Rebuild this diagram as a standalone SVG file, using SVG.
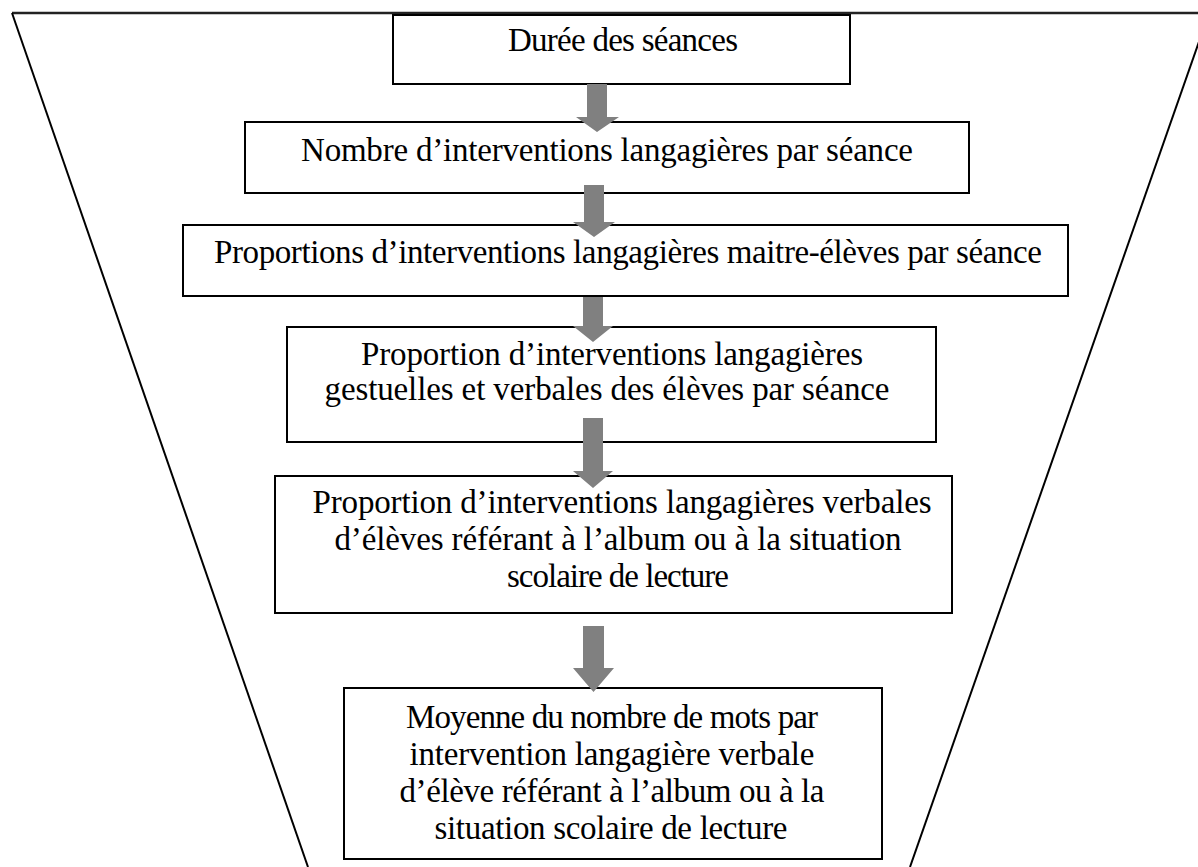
<svg xmlns="http://www.w3.org/2000/svg" width="1198" height="867" viewBox="0 0 1198 867">
<style>
.box{fill:#fff;stroke:#000;stroke-width:2}
.t{font-family:"Liberation Serif","Times New Roman",serif;font-size:33px;fill:#000;text-anchor:middle}
.arr{fill:#808080;stroke:none}
.fun{fill:none;stroke:#000;stroke-width:2}
</style>
<rect width="1198" height="867" fill="#fff"/>
<g id="funnel">
<line class="fun" x1="12" y1="13" x2="1198" y2="13" style="stroke:#222;stroke-width:2.5"/>
<line class="fun" x1="12" y1="13" x2="308" y2="867"/>
<line class="fun" x1="1209" y1="13" x2="910" y2="867"/>
</g>
<g id="n1">
<rect class="box" x="393" y="15" width="457" height="69"/>
<text class="t" x="623" y="51" textLength="230">Durée des séances</text>
</g>
<g id="n2">
<rect class="box" x="245" y="122" width="724" height="71"/>
<text class="t" x="607" y="161" textLength="612">Nombre d’interventions langagières par séance</text>
</g>
<g id="n3">
<rect class="box" x="183" y="225" width="885" height="71"/>
<text class="t" x="628" y="263" textLength="828">Proportions d’interventions langagières maitre-élèves par séance</text>
</g>
<g id="n4">
<rect class="box" x="287" y="327" width="649" height="115"/>
<text class="t" x="612" y="365" textLength="502">Proportion d’interventions langagières</text>
<text class="t" x="607" y="400" textLength="565">gestuelles et verbales des élèves par séance</text>
</g>
<g id="n5">
<rect class="box" x="275" y="476" width="677" height="137"/>
<text class="t" x="622" y="513" textLength="619">Proportion d’interventions langagières verbales</text>
<text class="t" x="618" y="550" textLength="567">d’élèves référant à l’album ou à la situation</text>
<text class="t" x="618" y="587" textLength="222">scolaire de lecture</text>
</g>
<g id="n6">
<rect class="box" x="344" y="688" width="538" height="171"/>
<text class="t" x="612" y="728" textLength="412">Moyenne du nombre de mots par</text>
<text class="t" x="612" y="765" textLength="405">intervention langagière verbale</text>
<text class="t" x="612" y="802" textLength="425">d’élève référant à l’album ou à la</text>
<text class="t" x="611" y="839" textLength="353">situation scolaire de lecture</text>
</g>
<g id="connectors">
<polygon class="arr" points="587,84 607,84 607,117 619,117 597,132 576,117 587,117"/>
<polygon class="arr" points="584,185 604,185 604,222 615,222 594,237 573,222 584,222"/>
<polygon class="arr" points="583,297 603,297 603,326 613,326 593,342 573,326 583,326"/>
<polygon class="arr" points="583,418 603,418 603,471 613,471 593,488 573,471 583,471"/>
<polygon class="arr" points="583,626 604,626 604,668 614,668 593.5,692 573,668 583,668"/>
</g>
</svg>
